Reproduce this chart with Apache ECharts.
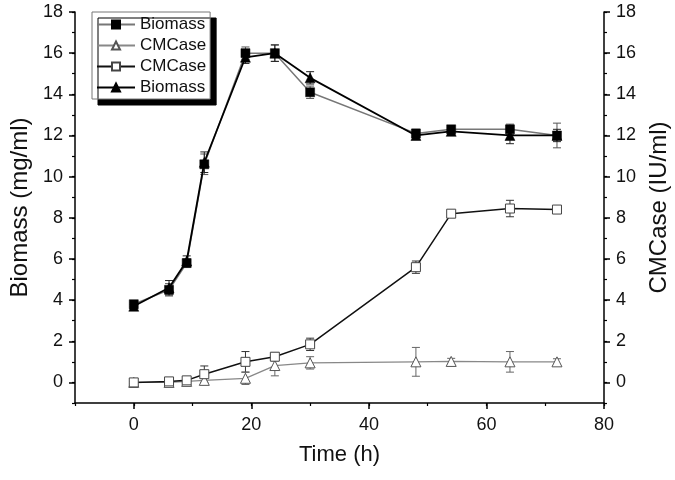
<!DOCTYPE html>
<html>
<head>
<meta charset="utf-8">
<script src="https://cdn.jsdelivr.net/npm/echarts@6/dist/echarts.min.js"></script>
<style>html,body{margin:0;padding:0;background:#fff;}#c{width:675px;height:480px;}</style>
</head>
<body>
<div id="c"></div>
<script>
const time = [0, 6, 9, 12, 19, 24, 30, 48, 54, 64, 72];
const biomassSq = [3.8, 4.5, 5.8, 10.6, 16.0, 16.0, 14.1, 12.1, 12.3, 12.3, 12.0];
const biomassSqErr = [0.1, 0.3, 0.2, 0.5, 0.3, 0.4, 0.3, 0.2, 0.15, 0.25, 0.6];
const biomassTri = [3.7, 4.6, 5.9, 10.7, 15.8, 16.0, 14.8, 12.0, 12.2, 12.0, 12.0];
const biomassTriErr = [0.1, 0.35, 0.25, 0.5, 0.3, 0.4, 0.3, 0.2, 0.15, 0.4, 0.3];
const cmcaseSq = [0.0, 0.05, 0.1, 0.4, 1.0, 1.25, 1.85, 5.6, 8.2, 8.45, 8.4];
const cmcaseSqErr = [0.05, 0.1, 0.15, 0.4, 0.5, 0.2, 0.3, 0.3, 0.1, 0.4, 0.1];
const cmcaseTri = [0.0, 0.0, 0.05, 0.1, 0.2, 0.82, 0.95, 1.0, 1.02, 1.0, 1.0];
const cmcaseTriErr = [0.05, 0.1, 0.2, 0.2, 0.3, 0.5, 0.3, 0.7, 0.15, 0.5, 0.15];
const xMajor = [0, 20, 40, 60, 80];
const yMajor = [0, 2, 4, 6, 8, 10, 12, 14, 16, 18];

const FONT = 'Liberation Sans, Arial, sans-serif';
const chart = echarts.init(document.getElementById('c'));

function pairs(ys) { return time.map((t, i) => [t, ys[i]]); }
function errs(ys, es) { return time.map((t, i) => [t, ys[i] - es[i], ys[i] + es[i]]); }

function errSeries(ys, es, color, yIdx) {
  return {
    type: 'custom', xAxisIndex: 0, yAxisIndex: yIdx, silent: true, z: 1,
    encode: { x: 0, y: [1, 2] },
    data: errs(ys, es),
    renderItem: function (params, api) {
      const x = api.value(0), lo = api.value(1), hi = api.value(2);
      const a = api.coord([x, lo]), b = api.coord([x, hi]);
      const w = 4;
      const st = { stroke: color, lineWidth: 1 };
      return {
        type: 'group', children: [
          { type: 'line', shape: { x1: a[0], y1: a[1], x2: b[0], y2: b[1] }, style: st },
          { type: 'line', shape: { x1: a[0] - w, y1: a[1], x2: a[0] + w, y2: a[1] }, style: st },
          { type: 'line', shape: { x1: b[0] - w, y1: b[1], x2: b[0] + w, y2: b[1] }, style: st }
        ]
      };
    }
  };
}

const axisLineStyle = { show: true, onZero: false, lineStyle: { color: '#000', width: 1.5 } };
const noLine = { show: false, onZero: false };
const labelStyle = { color: '#111', fontSize: 18, fontFamily: FONT };

const grid = { left: 75, right: 71, top: 12, bottom: 77, containLabel: false, outerBoundsMode: 'none' };

const option = {
  backgroundColor: '#fff',
  animation: false,
  grid: grid,
  legend: {
    left: 92, top: 12, orient: 'vertical',
    itemWidth: 38, itemHeight: 10, itemGap: 4,
    padding: [4, 4, 3, 4],
    backgroundColor: '#fff', borderColor: '#777', borderWidth: 1,
    shadowColor: '#000', shadowBlur: 0, shadowOffsetX: 6, shadowOffsetY: 6,
    textStyle: { fontSize: 17, fontFamily: FONT, color: '#111', lineHeight: 16 },
    formatter: function (n) { return n.trim(); },
    data: ['Biomass', 'CMCase', 'CMCase ', 'Biomass ']
  },
  xAxis: [
    {
      type: 'value', min: -10, max: 80, position: 'bottom',
      name: 'Time (h)', nameLocation: 'middle', nameGap: 41,
      nameTextStyle: { fontSize: 22, fontFamily: FONT, color: '#111' },
      axisLine: axisLineStyle,
      axisTick: { show: true, inside: false, length: 6, customValues: xMajor, lineStyle: { color: '#000', width: 1.5 } },
      axisLabel: Object.assign({ customValues: xMajor, margin: 13 }, labelStyle),
      splitLine: { show: false }
    },
    {
      type: 'value', min: -10, max: 80, interval: 10, position: 'bottom',
      axisLine: noLine,
      axisTick: { show: true, length: 3, lineStyle: { color: '#000', width: 1.2 } },
      axisLabel: { show: false }, splitLine: { show: false }
    }
  ],
  yAxis: [
    {
      type: 'value', min: -1, max: 18, position: 'left',
      name: 'Biomass (mg/ml)', nameLocation: 'middle', nameGap: 43,
      nameTextStyle: { fontSize: 24, fontFamily: FONT, color: '#111' },
      axisLine: axisLineStyle,
      axisTick: { show: true, length: 6, customValues: yMajor, lineStyle: { color: '#000', width: 1.5 } },
      axisLabel: Object.assign({ customValues: yMajor, margin: 12 }, labelStyle),
      splitLine: { show: false }
    },
    {
      type: 'value', min: -1, max: 18, position: 'right',
      name: 'CMCase (IU/ml)', nameLocation: 'middle', nameGap: 36,
      nameTextStyle: { fontSize: 24, fontFamily: FONT, color: '#111' },
      axisLine: axisLineStyle,
      axisTick: { show: true, length: 6, customValues: yMajor, lineStyle: { color: '#000', width: 1.5 } },
      axisLabel: Object.assign({ customValues: yMajor, margin: 12 }, labelStyle),
      splitLine: { show: false }
    },
    {
      type: 'value', min: -1, max: 18, interval: 1, position: 'left',
      axisLine: noLine,
      axisTick: { show: true, length: 3, lineStyle: { color: '#000', width: 1.2 } },
      axisLabel: { show: false }, splitLine: { show: false }
    },
    {
      type: 'value', min: -1, max: 18, interval: 1, position: 'right',
      axisLine: noLine,
      axisTick: { show: true, length: 3, lineStyle: { color: '#000', width: 1.2 } },
      axisLabel: { show: false }, splitLine: { show: false }
    }
  ],
  series: [
    errSeries(biomassSq, biomassSqErr, '#555', 0),
    errSeries(biomassTri, biomassTriErr, '#222', 0),
    errSeries(cmcaseSq, cmcaseSqErr, '#333', 1),
    errSeries(cmcaseTri, cmcaseTriErr, '#666', 1),
    {
      name: 'Biomass', type: 'line', xAxisIndex: 0, yAxisIndex: 0, z: 3,
      data: pairs(biomassSq), symbol: 'rect', symbolSize: 9,
      lineStyle: { color: '#777', width: 1.5 },
      itemStyle: { color: '#000', borderColor: '#000', borderWidth: 0.5 }
    },
    {
      name: 'CMCase', type: 'line', xAxisIndex: 0, yAxisIndex: 1, z: 3,
      data: pairs(cmcaseTri), symbol: 'triangle', symbolSize: 10,
      lineStyle: { color: '#888', width: 1.3 },
      itemStyle: { color: '#fff', borderColor: '#555', borderWidth: 1 }
    },
    {
      name: 'CMCase ', type: 'line', xAxisIndex: 0, yAxisIndex: 1, z: 4,
      data: pairs(cmcaseSq), symbol: 'rect', symbolSize: 9,
      lineStyle: { color: '#111', width: 1.5 },
      itemStyle: { color: '#fff', borderColor: '#444', borderWidth: 1 }
    },
    {
      name: 'Biomass ', type: 'line', xAxisIndex: 0, yAxisIndex: 0, z: 4,
      data: pairs(biomassTri), symbol: 'triangle', symbolSize: 10,
      lineStyle: { color: '#000', width: 1.8 },
      itemStyle: { color: '#000', borderColor: '#000', borderWidth: 0.5 }
    }
  ]
};
chart.setOption(option);
</script>
</body>
</html>
